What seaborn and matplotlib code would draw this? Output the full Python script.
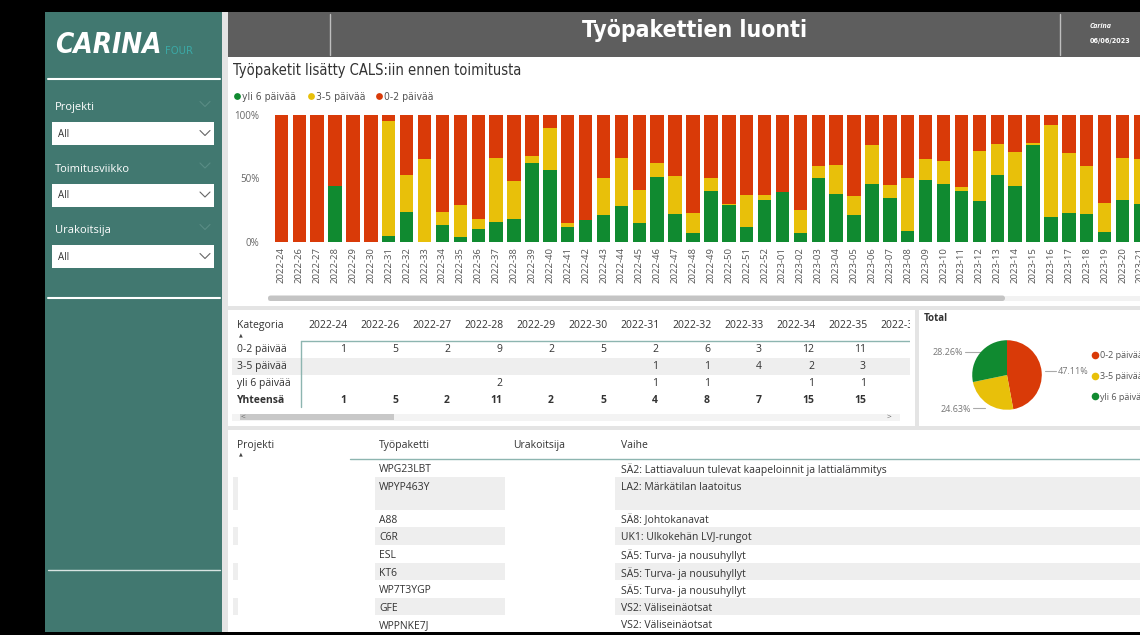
import matplotlib
matplotlib.use("Agg")
import matplotlib.pyplot as plt
import seaborn as sns
from matplotlib.patches import Rectangle, FancyBboxPatch
from matplotlib import font_manager

# ---------------- data ----------------
weeks = ["2022-24", "2022-26", "2022-27", "2022-28", "2022-29", "2022-30", "2022-31",
         "2022-32", "2022-33", "2022-34", "2022-35", "2022-36", "2022-37", "2022-38",
         "2022-39", "2022-40", "2022-41", "2022-42", "2022-43", "2022-44", "2022-45",
         "2022-46", "2022-47", "2022-48", "2022-49", "2022-50", "2022-51", "2022-52",
         "2023-01", "2023-02", "2023-03", "2023-04", "2023-05", "2023-06", "2023-07",
         "2023-08", "2023-09", "2023-10", "2023-11", "2023-12", "2023-13", "2023-14",
         "2023-15", "2023-16", "2023-17", "2023-18", "2023-19", "2023-20", "2023-21"]
green_pct = [0, 0, 0, 44, 0, 0, 5, 24, 0, 13, 4, 10, 16, 18, 62, 57, 12, 17, 21, 28, 15,
             51, 22, 7, 40, 29, 12, 33, 39, 7, 50, 38, 21, 46, 35, 9, 49, 46, 40, 32, 53,
             44, 76, 20, 23, 22, 8, 33, 30]
yellow_pct = [0, 0, 0, 0, 0, 0, 90, 29, 65, 11, 25, 8, 50, 30, 6, 33, 3, 0, 29, 38, 26,
              11, 30, 16, 10, 1, 25, 4, 0, 18, 10, 23, 15, 30, 10, 41, 16, 18, 3, 40, 24,
              27, 2, 72, 47, 38, 23, 33, 35]
red_pct = [100, 100, 100, 56, 100, 100, 5, 47, 35, 76, 71, 82, 34, 52, 32, 10, 85, 83, 50,
           34, 59, 38, 48, 77, 50, 70, 63, 63, 61, 75, 40, 39, 64, 24, 55, 50, 35, 36, 57,
           28, 23, 29, 22, 8, 30, 40, 69, 34, 35]

series_labels = ["yli 6 päivää", "3-5 päivää", "0-2 päivää"]

matrix_weeks = ["2022-24", "2022-26", "2022-27", "2022-28", "2022-29", "2022-30",
                "2022-31", "2022-32", "2022-33", "2022-34", "2022-35", "2022-36"]
matrix_rows = ["0-2 päivää", "3-5 päivää", "yli 6 päivää", "Yhteensä"]
matrix_red = [1, 5, 2, 9, 2, 5, 2, 6, 3, 12, 11, 2]
matrix_yellow = [None, None, None, None, None, None, 1, 1, 4, 2, 3, None]
matrix_green = [None, None, None, 2, None, None, 1, 1, None, 1, 1, None]
matrix_total = [1, 5, 2, 11, 2, 5, 4, 8, 7, 15, 15, 2]

pie_labels = ["0-2 päivää", "3-5 päivää", "yli 6 päivää"]
pie_values = [47.11, 24.63, 28.26]

table_headers = ["Projekti", "Työpaketti", "Urakoitsija", "Vaihe"]
table_packages = ["WPG23LBT", "WPYP463Y", "A88", "C6R", "ESL", "KT6", "WP7T3YGP", "GFE", "WPPNKE7J"]
table_phases = ["SÄ2: Lattiavaluun tulevat kaapeloinnit ja lattialämmitys",
                "LA2: Märkätilan laatoitus", "SÄ8: Johtokanavat", "UK1: Ulkokehän LVJ-rungot",
                "SÄ5: Turva- ja nousuhyllyt", "SÄ5: Turva- ja nousuhyllyt",
                "SÄ5: Turva- ja nousuhyllyt", "VS2: Väliseinäotsat", "VS2: Väliseinäotsat"]

filters = ["Projekti", "Toimitusviikko", "Urakoitsija"]

# ---------------- style ----------------
RED = "#D93A08"
YELLOW = "#E8C00A"
GREEN = "#108A30"
TEAL = "#417870"
TXT = "#333333"

sns.set_theme(style="white")
flist = font_manager.fontManager.ttflist
names = {f.name for f in flist}
if "Liberation Sans Narrow" in names:
    COND, STRETCH = "Liberation Sans Narrow", "normal"
elif any(f.name == "DejaVu Sans" and f.stretch == "condensed" for f in flist):
    COND, STRETCH = "DejaVu Sans", "condensed"
else:
    COND, STRETCH = "Roboto", "normal"
plt.rcParams["font.family"] = ["Open Sans", "DejaVu Sans"]

fig = plt.figure(figsize=(11.4, 6.35), dpi=100, facecolor="black")
W, H = 1140, 635

bg = fig.add_axes([0, 0, 1, 1])
bg.set_xlim(0, W)
bg.set_ylim(H, 0)
bg.axis("off")
bg.set_facecolor("black")

DY = 1.5  # small vertical text offset


def rect(x0, y0, x1, y1, color, z=0):
    bg.add_patch(Rectangle((x0, y0), x1 - x0, y1 - y0, facecolor=color, edgecolor="none", zorder=z))


def txt(x, y, s, size=7.5, color=TXT, ha="left", va="center", weight="normal", cond=False, **kw):
    kwargs = dict(fontsize=size, color=color, ha=ha, va=va, fontweight=weight, zorder=5)
    if cond:
        kwargs["family"] = COND
        kwargs["fontstretch"] = STRETCH
    kwargs.update(kw)
    bg.text(x, y + DY, s, **kwargs)


def chevron(x, y, color="#666666", s=5, lw=0.8):
    bg.plot([x - s, x, x + s], [y - s / 2, y + s / 2, y - s / 2], color=color, lw=lw, zorder=6)


# frame / backgrounds
rect(0, 0, W, H, "black")
rect(45, 12, 222, 632, TEAL)
rect(222, 12, W, 632, "#E4E4E4")
rect(228, 12, W, 57, "#5E5E5E")
rect(228, 57, W, 306, "white")
rect(228, 310, 915, 426, "white")
rect(919, 310, W, 426, "white")
rect(228, 430, W, 632, "white")

# header
bg.plot([330, 330], [14, 55], color="#BEBEBE", lw=1, zorder=3)
bg.plot([1060, 1060], [14, 55], color="#BEBEBE", lw=1, zorder=3)
txt(695, 29.5, "Työpakettien luonti", size=16.5, color="white", ha="center", weight="bold", cond=True)
txt(1090, 25.5, "Carina", size=5, color="white", weight="bold", style="italic")
txt(1090, 39.5, "06/06/2023", size=5.2, color="white", weight="bold", cond=True)

# sidebar
txt(55, 43.5, "CARINA", size=20, color="white", weight="bold", style="italic", cond=True)
txt(165, 49.5, "FOUR", size=8, color="#3BA9A6", cond=True)
bg.plot([48, 220], [79, 79], color="white", lw=1.5, zorder=3)
for i, lab in enumerate(filters):
    y0 = 107 + i * 61.5
    txt(55, y0 - 1, lab, size=8, color="white")
    chevron(205, y0 - 3, color="#5A8C85", s=5)
    bg.add_patch(Rectangle((52, y0 + 15), 162, 23, facecolor="white", edgecolor="none", zorder=3))
    txt(58, y0 + 26, "All", size=7, color=TXT)
    chevron(205, y0 + 26, color="#666666", s=5)
bg.plot([48, 220], [298, 298], color="white", lw=1.5, zorder=3)
bg.plot([48, 220], [570, 570], color="#D8E4E2", lw=1, zorder=3)

# chart title + legend
txt(233, 69.5, "Työpaketit lisätty CALS:iin ennen toimitusta", size=10.5, color=TXT, cond=True)
leg_x = [237, 311, 379]
for xx, lab, col in zip(leg_x, series_labels, [GREEN, YELLOW, RED]):
    bg.scatter([xx], [96], s=24, color=col, zorder=6, linewidths=0)
    txt(xx + 5, 95, lab, size=7.5, color="#555555", cond=True)

# ---------------- stacked bar chart (seaborn) ----------------
ax = fig.add_axes([272.4 / W, (H - 242) / H, 877 / W, 127 / H])
top_yellow = [g + y for g, y in zip(green_pct, yellow_pct)]
top_red = [g + y + r for g, y, r in zip(green_pct, yellow_pct, red_pct)]
sns.barplot(x=weeks, y=top_red, order=weeks, color=RED, saturation=1, width=0.75,
            errorbar=None, ax=ax, linewidth=0)
sns.barplot(x=weeks, y=top_yellow, order=weeks, color=YELLOW, saturation=1, width=0.75,
            errorbar=None, ax=ax, linewidth=0)
sns.barplot(x=weeks, y=green_pct, order=weeks, color=GREEN, saturation=1, width=0.75,
            errorbar=None, ax=ax, linewidth=0)
ax.set_xlim(-0.5, len(weeks) - 0.5)
ax.set_ylim(0, 100)
ax.set_yticks([0, 50, 100])
ax.set_yticklabels(["0%", "50%", "100%"])
ax.set_xlabel("")
ax.set_ylabel("")
for s in ax.spines.values():
    s.set_visible(False)
ax.set_facecolor("none")
ax.tick_params(axis="y", length=0, pad=9.5, labelsize=7, labelcolor="#666666")
ax.tick_params(axis="x", length=0, pad=3.5, labelsize=6.8, labelcolor="#555555", rotation=90)

# scrollbar under chart
rect(268, 295.5, W, 301, "#F2F2F2", z=1)
bg.add_patch(FancyBboxPatch((268, 295.5), 737, 5.5, boxstyle="round,pad=0,rounding_size=2.7",
                            facecolor="#C4C4C4", edgecolor="none", zorder=2))

# ---------------- matrix ----------------
rect(232, 358, 910, 375, "#EEEEEE", z=1)
txt(237, 324, "Kategoria", size=7.5)
txt(241, 333.5, "▲", size=3.5, color="#444444", ha="center", family="DejaVu Sans")
row_y = [348, 365, 382, 399]
for lab, yy in zip(matrix_rows, row_y):
    txt(237, yy, lab, size=7.5, weight="bold" if lab == "Yhteensä" else "normal")
bg.plot([301, 301], [341, 407], color="#8DB5B0", lw=1, zorder=3)
bg.plot([301, 910], [340.5, 340.5], color="#8DB5B0", lw=1, zorder=3)
for i, wk in enumerate(matrix_weeks):
    xr = 348 + 52 * i
    txt(xr, 324, wk, size=7.5, ha="right")
    for vals, yy in zip([matrix_red, matrix_yellow, matrix_green, matrix_total], row_y):
        v = vals[i]
        if v is not None:
            txt(xr - 2, yy, str(v), size=7.5, ha="right",
                weight="bold" if vals is matrix_total else "normal")
rect(910, 312, 915, 426, "white", z=7)
rect(915, 310, 919, 426, "#E4E4E4", z=7)
rect(232, 413.5, 900, 420.5, "#F3F3F3", z=1)
rect(240, 414, 394, 420, "#C8C8C8", z=2)
txt(243, 415.5, "<", size=6, color="#666666", ha="center")
txt(889, 415.5, ">", size=6, color="#666666", ha="center")

# ---------------- pie ----------------
txt(924, 317, "Total", size=7, weight="bold", color=TXT)
pax = fig.add_axes([(1007 - 40) / W, (H - 415) / H, 80 / W, 80 / H])
pax.pie(pie_values, colors=[RED, YELLOW, GREEN], startangle=90, counterclock=False,
        wedgeprops=dict(linewidth=0))
pax.set_xlim(-1.15, 1.15)
pax.set_ylim(-1.15, 1.15)
pax.set_aspect("equal")
lab_pos = [(1045, 1056, 371, 1058, "left"), (973, 985, 408, 971, "right"), (965, 982, 352, 963, "right")]
for v, (xa, xb, yy, xt, ha) in zip(pie_values, lab_pos):
    bg.plot([xa, xb], [yy, yy], color="#AAAAAA", lw=0.8, zorder=4)
    txt(xt, yy - 1 + (1 if yy > 400 else 0), f"{v:.2f}%", size=6.5, color="#777777", ha=ha)
for k, (lab, col) in enumerate(zip(pie_labels, [RED, YELLOW, GREEN])):
    yy = 355 + 20.5 * k
    bg.scatter([1095], [yy], s=30, color=col, zorder=6, linewidths=0)
    txt(1100, yy - 0.5, lab, size=6.5, color="#555555")

# ---------------- bottom table ----------------
hx = [237, 379, 513, 621]
for x, h in zip(hx, table_headers):
    txt(x, 444, h, size=7.5)
txt(241, 452.5, "▲", size=3.5, color="#444444", ha="center", family="DejaVu Sans")
bg.plot([350, W], [459, 459], color="#8DB5B0", lw=1, zorder=3)
bounds = [459, 477, 510, 527, 545, 563, 580, 598, 615, 632]
for r in range(len(table_packages)):
    y0, y1 = bounds[r], bounds[r + 1]
    if r % 2 == 1:
        rect(233, y0, 237.5, y1, "#EEEEEE", z=1)
        rect(375, y0, 505, y1, "#EEEEEE", z=1)
        rect(615, y0, W, y1, "#EEEEEE", z=1)
    ty = y0 + 9 if r != 1 else y0 + 9.5
    txt(379, ty, table_packages[r], size=7.5)
    txt(621, ty, table_phases[r], size=7.5)

rect(0, 632, W, H, "black", z=8)

fig.savefig("out.png", dpi=100, facecolor="black")
